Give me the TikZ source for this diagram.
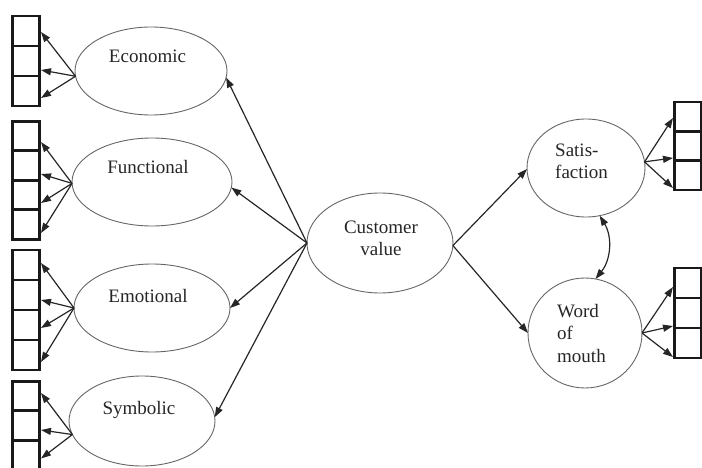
\documentclass[tikz,border=0pt]{standalone}
\usepackage{fontspec}
\setmainfont{Liberation Serif}
\usetikzlibrary{shapes.geometric,arrows.meta}
\begin{document}
\begin{tikzpicture}[x=1pt,y=-1pt,
  latent/.style={ellipse, draw=black!60, line width=0.9pt, inner sep=0pt, outer sep=0pt},
  cell/.style={draw=black!90, line width=2.8pt, minimum width=27.2pt, minimum height=30pt, inner sep=0pt},
  lbl/.style={font=\fontsize{19}{22}\selectfont, text=black!85, inner sep=0pt},
  tip/.style={Triangle[length=10pt,width=7pt]},
  arr/.style={draw=black!85, line width=1.2pt, -{Triangle[length=10pt,width=7pt]}},
  dbl/.style={draw=black!85, line width=1.2pt, {Triangle[length=10pt,width=7pt]}-{Triangle[length=10pt,width=7pt]}}
]
\useasboundingbox (0,0) rectangle (702,468);
\clip (0,0) rectangle (702,468);

% latent variables
\node[latent, minimum width=152pt, minimum height=88pt]  (econ) at (151,71)  {};
\node[latent, minimum width=160pt, minimum height=88pt]  (func) at (152,182) {};
\node[latent, minimum width=156pt, minimum height=88pt]  (emot) at (152,308) {};
\node[latent, minimum width=146pt, minimum height=90pt]  (symb) at (142,421) {};
\node[latent, minimum width=146pt, minimum height=100pt] (cv)   at (380,243) {};
\node[latent, minimum width=118pt, minimum height=98pt]  (sat)  at (586,168) {};
\node[latent, minimum width=114pt, minimum height=110pt] (wom)  at (585,333) {};

% their names
\node[lbl, anchor=base] (econT) at (147.5,63) {Economic};
\node[lbl, anchor=base] (funcT) at (148,174) {Functional};
\node[lbl, anchor=base] (emotT) at (148,302) {Emotional};
\node[lbl, anchor=base] (symbT) at (139,414) {Symbolic};
\node[lbl, align=center] (cvT) at (381,238) {Customer\\value};
\node[lbl, align=left, anchor=west] (satT) at (555,161.5) {Satis-\\faction};
\node[lbl, align=left, anchor=west] (womT) at (557,333.5) {Word\\of\\mouth};

% indicator boxes
\node[cell] (ec1) at (26,31) {};
\node[cell] (ec2) at (26,61) {};
\node[cell] (ec3) at (26,91) {};
\node[cell, minimum height=29.5pt] (fc1) at (26,136) {};
\node[cell, minimum height=29.5pt] (fc2) at (26,165.5) {};
\node[cell, minimum height=29.5pt] (fc3) at (26,195) {};
\node[cell, minimum height=29.5pt] (fc4) at (26,224.5) {};
\node[cell] (mc1) at (26,265) {};
\node[cell] (mc2) at (26,295) {};
\node[cell] (mc3) at (26,325) {};
\node[cell] (mc4) at (26,355) {};
\node[cell, minimum height=29.5pt] (sc1) at (26,396) {};
\node[cell, minimum height=29.5pt] (sc2) at (26,425.5) {};
\node[cell, minimum height=29.5pt] (sc3) at (26,455) {};
\node[cell, minimum height=29.3pt] (sa1) at (688,116.7) {};
\node[cell, minimum height=29.3pt] (sa2) at (688,146) {};
\node[cell, minimum height=29.3pt] (sa3) at (688,175.3) {};
\node[cell] (wo1) at (688,283) {};
\node[cell] (wo2) at (688,313) {};
\node[cell] (wo3) at (688,343) {};

% loadings
\foreach \c/\d in {ec1/-1, ec2/-9, ec3/-7}
  \draw[arr] (econ.184) -- ([yshift=\d pt]\c.east);
\foreach \c/\d in {fc1/-6, fc2/-8.5, fc3/-8, fc4/-8.5}
  \draw[arr] (func.181) -- ([yshift=\d pt]\c.east);
\foreach \c/\d in {mc1/2, mc2/-5, mc3/-3, mc4/-7}
  \draw[arr] (emot.180) -- ([yshift=\d pt]\c.east);
\foreach \c/\d in {sc1/3, sc2/-4.5, sc3/-3.5}
  \draw[arr] (symb.191) -- ([yshift=\d pt]\c.east);
\foreach \c/\d in {sa1/-1.3, sa2/-12, sa3/-12.7}
  \draw[arr] (sat.6) -- ([yshift=\d pt]\c.west);
\foreach \c/\d in {wo1/-4, wo2/-13, wo3/-14}
  \draw[arr] (wom.0) -- ([yshift=\d pt]\c.west);

% structural paths
\draw[arr] (cv.west) -- (econ.355);
\draw[arr] (cv.west) -- (func.356);
\draw[arr] (cv.west) -- (emot.0);
\draw[arr] (cv.west) -- (symb.3);
\draw[arr] (cv.358) -- (sat.181);
\draw[arr] (cv.358) -- (wom.180);
\draw[dbl] (sat.286) to[bend left=35] (wom.79);
\end{tikzpicture}
\end{document}
